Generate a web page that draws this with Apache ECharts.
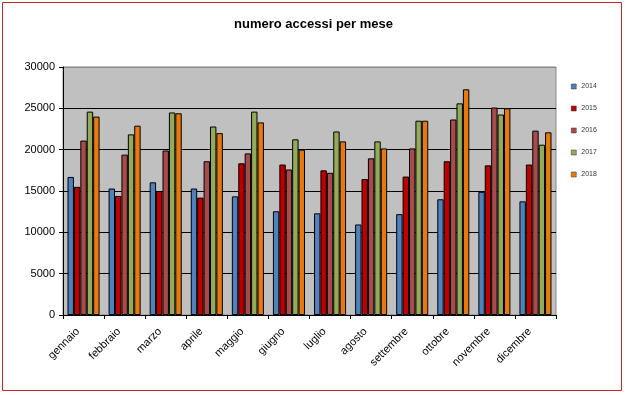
<!DOCTYPE html>
<html>
<head>
<meta charset="utf-8">
<script src="https://cdn.jsdelivr.net/npm/echarts@6/dist/echarts.min.js"></script>
<style>html,body{margin:0;padding:0;background:#fff}#c{width:627px;height:395px}</style>
</head>
<body>
<div id="c"></div>
<script>
const months = ['gennaio','febbraio','marzo','aprile','maggio','giugno','luglio','agosto','settembre','ottobre','novembre','dicembre'];
const years = ['2014','2015','2016','2017','2018'];
const v2014 = [16700,15300,16050,15300,14350,12550,12300,10950,12200,14000,14900,13750];
const v2015 = [15500,14400,15000,14200,18350,18200,17500,16450,16750,18600,18100,18200];
const v2016 = [21100,19400,19900,18600,19550,17600,17200,18950,20150,23650,25100,22300];
const v2017 = [24600,21850,24500,22800,24600,21250,22200,21000,23500,25600,24250,20600];
const v2018 = [24000,22900,24400,22000,23300,20000,21000,20150,23500,27300,25000,22100];
const yTicks = [0,5000,10000,15000,20000,25000,30000];
const colors = ['#4f81bd','#c00000','#a94b4b','#93ab59','#e8790f'];
const values = [v2014,v2015,v2016,v2017,v2018];

const chart = echarts.init(document.getElementById('c'));
chart.setOption({
  animation:false,
  backgroundColor:'#fff',
  title:{text:'numero accessi per mese',left:'center',top:13,
    textStyle:{fontFamily:'Liberation Sans',fontWeight:'bold',fontSize:13,color:'#000'}},
  grid:{left:63,right:71,top:67,bottom:80,show:true,backgroundColor:'#c0c0c0',borderColor:'#888',borderWidth:1},
  legend:{orient:'vertical',left:566,top:77,itemWidth:5,itemHeight:5,itemGap:13,icon:'rect',
    itemStyle:{borderWidth:0.5,borderColor:'#333'},
    textStyle:{fontFamily:'Liberation Sans',fontSize:7,color:'#333',lineHeight:9},
    data:years},
  xAxis:{type:'category',data:months,
    axisLine:{lineStyle:{color:'#000'}},
    axisTick:{show:true,alignWithLabel:false,length:4,lineStyle:{color:'#000'}},
    axisLabel:{rotate:45,interval:0,fontFamily:'Liberation Sans',fontSize:11,color:'#000',margin:9,padding:[0,8,0,0]}},
  yAxis:{type:'value',min:yTicks[0],max:yTicks[yTicks.length-1],interval:5000,
    axisLine:{show:true,lineStyle:{color:'#000'}},
    axisTick:{show:true,length:4,lineStyle:{color:'#000'}},
    axisLabel:{fontFamily:'Liberation Sans',fontSize:11,color:'#000',margin:8,formatter:v=>String(v)},
    splitLine:{lineStyle:{color:['#000','#000','#000','#000','#000','#000','#888'],width:1}}},
  series: years.map((y,i)=>({
    name:y,type:'bar',data:values[i],barGap:'0%',barCategoryGap:'22%',
    itemStyle:{color:colors[i],borderColor:'#000',borderWidth:1}
  })),
  graphic:[{type:'rect',shape:{x:2.5,y:2.5,width:619,height:388},
    style:{fill:'none',stroke:'#cc2222',lineWidth:1},z:100}]
});
</script>
</body>
</html>
